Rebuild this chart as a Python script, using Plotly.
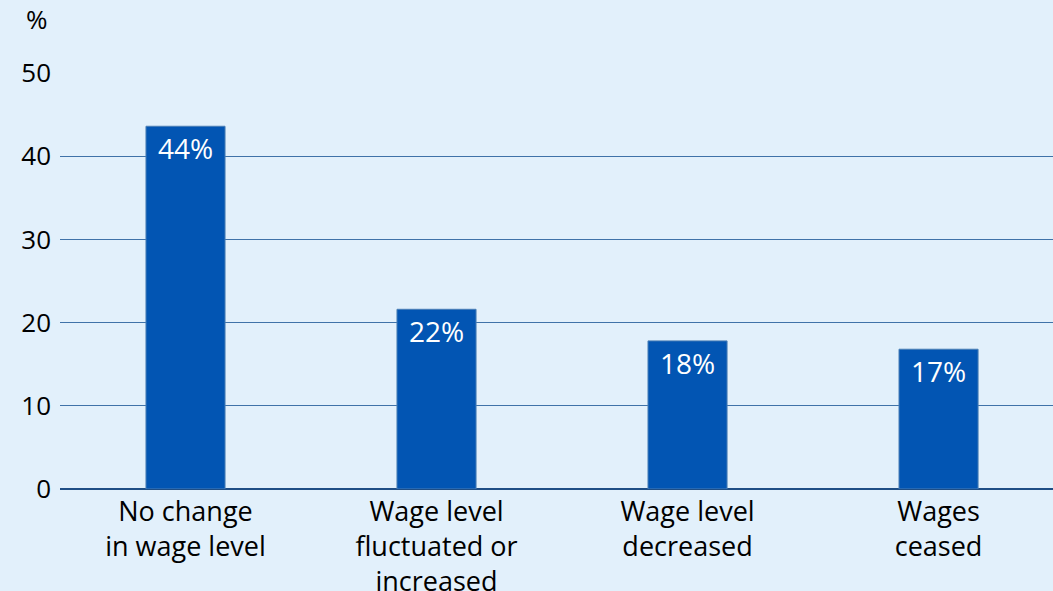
import plotly.graph_objects as go

categories = ["No change<br>in wage level", "Wage level<br>fluctuated or<br>increased", "Wage level<br>decreased", "Wages<br>ceased"]
values = [43.6, 21.6, 17.8, 16.8]
labels = ["44%", "22%", "18%", "17%"]
yticks = [0, 10, 20, 30, 40, 50]

FONT = "Open Sans, sans-serif"

fig = go.Figure(go.Bar(
    x=categories, y=values, text=labels,
    textposition="inside", insidetextanchor="end",
    textfont=dict(color="white", size=28, family=FONT),
    marker=dict(color="#0255B3", line=dict(color="#4A7FB5", width=1)),
    textangle=0, cliponaxis=False, constraintext="none",
))

fig.update_layout(
    width=1053, height=591,
    margin=dict(l=60, r=0, t=73, b=102),
    paper_bgcolor="#E2F0FB", plot_bgcolor="#E2F0FB",
    bargap=0.685,
    showlegend=False,
    font=dict(family=FONT, size=27, color="black"),
    xaxis=dict(range=[-0.5, 3.456], showgrid=False, ticks="", showline=False, automargin=False,
               tickfont=dict(size=27, family=FONT), ticklabelstandoff=4),
    yaxis=dict(range=[0, 50], tickvals=yticks, showgrid=True, gridcolor="#3F72A8", automargin=False,
               gridwidth=1, zeroline=True, zerolinecolor="#1F4E85", zerolinewidth=1.5,
               tickfont=dict(size=26, family=FONT), ticks="", ticklabelstandoff=8),
    annotations=[dict(text="%", xref="paper", yref="paper", x=-0.01, y=1.0, yshift=34,
                      xanchor="right", yanchor="bottom", showarrow=False,
                      font=dict(size=26, family=FONT))],
    uniformtext=dict(minsize=10, mode="show"),
)

fig.write_html("out.html")
